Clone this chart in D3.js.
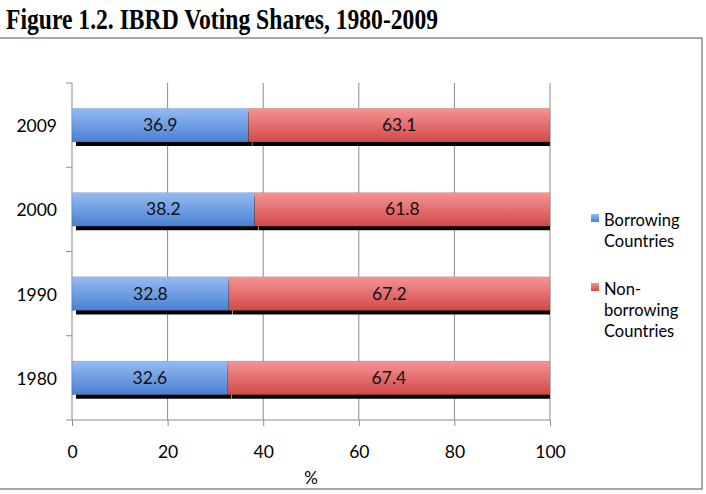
<!DOCTYPE html>
<html><head><meta charset="utf-8">
<script src="https://cdn.jsdelivr.net/npm/d3@7"></script>
<style>body{margin:0;background:#fff}svg{display:block}</style>
</head><body>
<script>
const years = ["1980","1990","2000","2009"];
const borrowing = [32.6, 32.8, 38.2, 36.9];
const nonBorrowing = [67.4, 67.2, 61.8, 63.1];
const xTicks = [0,20,40,60,80,100];
const seriesNames = ["Borrowing Countries","Non-borrowing Countries"];
const legendLines = [["Borrowing","Countries"],["Non-","borrowing","Countries"]];
const title = "Figure 1.2. IBRD Voting Shares, 1980-2009";

const W=706,H=494;
const svg=d3.select("body").append("svg").attr("width",W).attr("height",H);
const font="Lato, 'Open Sans', sans-serif";
const defs=svg.append("defs");
function grad(id,top,bot){const g=defs.append("linearGradient").attr("id",id).attr("x1",0).attr("y1",0).attr("x2",0).attr("y2",1);
 g.append("stop").attr("offset","0%").attr("stop-color",top);g.append("stop").attr("offset","100%").attr("stop-color",bot);}
grad("gb","#95bbf3","#4a80d2");
grad("gr","#f59494","#d24949");
defs.append("clipPath").attr("id","clip").append("rect").attr("x",72).attr("y",80).attr("width",478).attr("height",345);

// title
const tt=svg.append("text").attr("transform","translate(438,29) scale(1,1.2)").attr("text-anchor","end")
 .attr("font-family","'Liberation Serif','Times New Roman',serif").attr("font-weight","bold").attr("font-size",24).text(title);
const tw=tt.node().getComputedTextLength();
if(tw>432){tt.attr("textLength",432).attr("lengthAdjust","spacingAndGlyphs");}
// outer border
svg.append("rect").attr("x",-2).attr("y",38).attr("width",704).attr("height",451).attr("fill","none").attr("stroke","#8c8c8c").attr("stroke-width",1.5);

const x=d3.scaleLinear().domain([0,100]).range([72,550]);
const y=d3.scaleBand().domain(years.slice().reverse()).range([83,420]).paddingInner(0.6).paddingOuter(0.3);

// grid
svg.append("g").selectAll("line").data(xTicks.slice(1)).join("line")
 .attr("x1",d=>x(d)).attr("x2",d=>x(d)).attr("y1",83).attr("y2",420).attr("stroke","#8c8c8c").attr("stroke-width",1);

// x axis
const xa=svg.append("g").attr("transform","translate(0,420)").call(d3.axisBottom(x).tickValues(xTicks).tickSize(6).tickPadding(20));
xa.select(".domain").attr("stroke","#8c8c8c").attr("d","M72,0H550");
xa.selectAll(".tick line").attr("stroke","#8c8c8c");
xa.selectAll("text").attr("font-family",font).attr("font-size",17.5).attr("fill","#000");
svg.append("text").attr("x",311).attr("y",484).attr("text-anchor","middle").attr("font-family",font).attr("font-size",17).text("%");

// y axis
const step=y.step();
const yb=[0,1,2,3,4].map(i=>83+i*step);
svg.append("line").attr("x1",72).attr("x2",72).attr("y1",83).attr("y2",420).attr("stroke","#8c8c8c");
svg.append("g").selectAll("line").data(yb).join("line").attr("x1",66).attr("x2",72).attr("y1",d=>d).attr("y2",d=>d).attr("stroke","#8c8c8c");
svg.append("g").selectAll("text").data(years).join("text")
 .attr("x",57).attr("y",d=>y(d)+y.bandwidth()/2+7).attr("text-anchor","end")
 .attr("font-family",font).attr("font-size",17.5).text(d=>d);

const data=years.map((yr,i)=>({yr,b:borrowing[i],n:nonBorrowing[i]}));
const segs=[];
data.forEach(d=>{segs.push({yr:d.yr,x0:0,x1:d.b,v:d.b,f:"url(#gb)"});segs.push({yr:d.yr,x0:d.b,x1:d.b+d.n,v:d.n,f:"url(#gr)"});});
// shadows
svg.append("g").attr("clip-path","url(#clip)").selectAll("rect").data(segs).join("rect")
 .attr("x",d=>x(d.x0)+4).attr("y",d=>y(d.yr)+4).attr("width",d=>x(d.x1)-x(d.x0)-0.5).attr("height",y.bandwidth())
 .attr("fill","#000");
svg.append("g").selectAll("rect").data(segs).join("rect")
 .attr("x",d=>x(d.x0)).attr("y",d=>y(d.yr)).attr("width",d=>x(d.x1)-x(d.x0)).attr("height",y.bandwidth())
 .attr("fill",d=>d.f).attr("stroke","rgba(0,0,0,0.15)").attr("stroke-width",0.6);
svg.append("g").selectAll("text").data(segs).join("text")
 .attr("x",d=>(x(d.x0)+x(d.x1))/2).attr("y",d=>y(d.yr)+y.bandwidth()/2+6).attr("text-anchor","middle")
 .attr("font-family",font).attr("font-size",17.5).attr("fill","#111").text(d=>d.v.toFixed(1));

// legend
const lg=svg.append("g");
const lgY=[214,283];
seriesNames.forEach((s,i)=>{
 lg.append("rect").attr("x",591).attr("y",lgY[i]).attr("width",8).attr("height",8).attr("fill",i?"url(#gr)":"url(#gb)");
 const t=lg.append("text").attr("font-family",font).attr("font-size",16.5);
 legendLines[i].forEach((ln,j)=>t.append("tspan").attr("x",604).attr("y",lgY[i]+12+j*21).text(ln));
});
</script>
</body></html>
